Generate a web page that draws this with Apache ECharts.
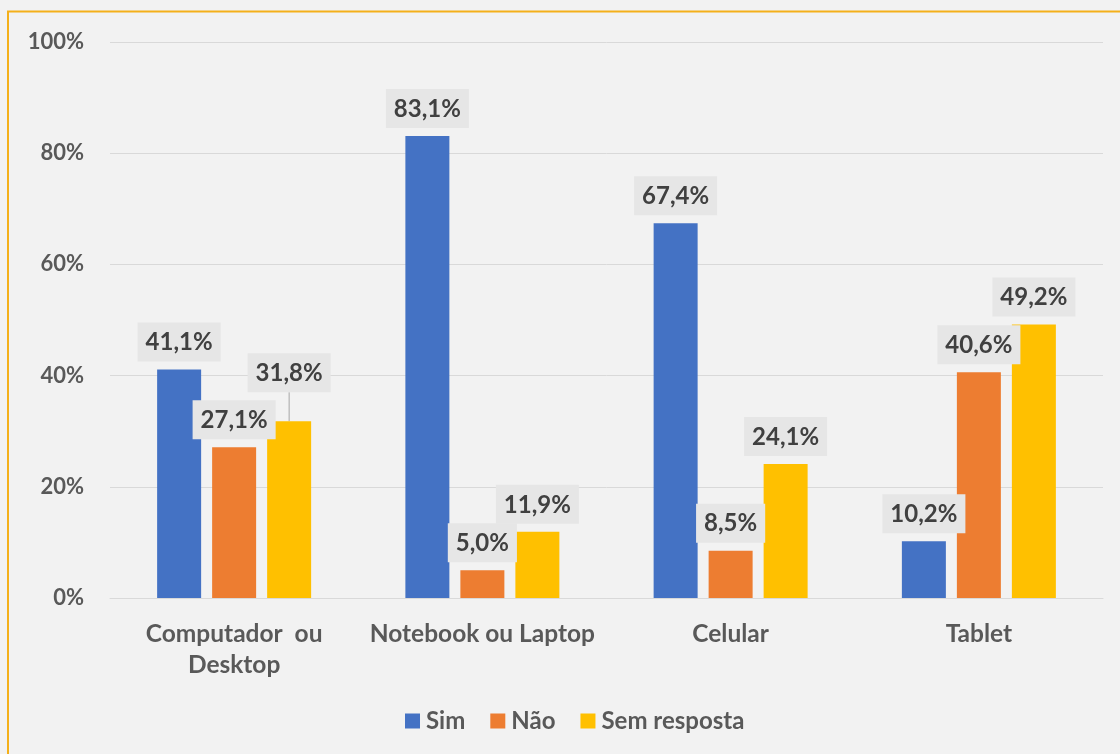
<!DOCTYPE html>
<html>
<head>
<meta charset="utf-8">
<script src="https://cdn.jsdelivr.net/npm/echarts@6/dist/echarts.min.js"></script>
<style>
html,body{margin:0;padding:0;background:#f2f2f2;}
#chart{width:1120px;height:754px;}
</style>
</head>
<body>
<div id="chart"></div>
<script>
const categories = ['Computador  ou\nDesktop', 'Notebook ou Laptop', 'Celular', 'Tablet'];
const simValues = [41.1, 83.1, 67.4, 10.2];
const naoValues = [27.1, 5.0, 8.5, 40.6];
const semRespostaValues = [31.8, 11.9, 24.1, 49.2];
const seriesNames = ['Sim', 'Não', 'Sem resposta'];
const yTicks = [0, 20, 40, 60, 80, 100];

const colors = ['#4472c4', '#ed7d31', '#ffc000'];
const FONT = 'Lato';

const chart = echarts.init(document.getElementById('chart'), null, {renderer: 'canvas'});

function fmt(v) {
  return v.toFixed(1).replace('.', ',') + '%';
}

const labelCfg = {
  show: true,
  position: 'top',
  distance: 8,
  formatter: p => fmt(p.value),
  fontFamily: FONT,
  fontWeight: 'bold',
  fontSize: 24,
  color: '#404040',
  backgroundColor: '#e6e6e6',
  padding: [8, 8, 7, 8]
};

const allData = [simValues, naoValues, semRespostaValues];

function buildData(vals, si) {
  return vals.map((v, di) => {
    if (si === 2 && di === 0) {
      return {value: v, labelLine: {show: true, lineStyle: {color: '#a6a6a6', width: 1}}};
    }
    return v;
  });
}

const option = {
  backgroundColor: '#f2f2f2',
  animation: false,
  color: colors,
  textStyle: {fontFamily: FONT},
  grid: {left: 110, right: 17, top: 42, bottom: 156, containLabel: false},
  legend: {
    data: seriesNames,
    bottom: 16,
    left: 400,
    itemWidth: 15,
    itemHeight: 15,
    itemGap: 25,
    icon: 'rect',
    textStyle: {fontFamily: FONT, fontWeight: 'bold', fontSize: 24, color: '#595959', padding: [0, 0, 0, 1]}
  },
  xAxis: {
    type: 'category',
    data: categories,
    axisLine: {show: true, lineStyle: {color: '#d9d9d9', width: 1}},
    axisTick: {show: false},
    axisLabel: {
      fontFamily: FONT, fontWeight: 'bold', fontSize: 24.5, color: '#595959',
      margin: 21, lineHeight: 31, interval: 0
    }
  },
  yAxis: {
    type: 'value',
    min: 0, max: 100, interval: 20,
    axisLine: {show: false},
    axisTick: {show: false},
    splitLine: {lineStyle: {color: '#d9d9d9', width: 1}},
    axisLabel: {
      fontFamily: FONT, fontWeight: 'bold', fontSize: 22, color: '#595959',
      margin: 26,
      formatter: v => yTicks.includes(v) ? v + '%' : ''
    }
  },
  series: allData.map((vals, i) => ({
    name: seriesNames[i],
    type: 'bar',
    data: buildData(vals, i),
    barWidth: 44,
    barGap: '25%',
    itemStyle: {color: colors[i]},
    label: labelCfg,
    labelLine: {show: false},
    labelLayout: function (p) {
      if (p.seriesIndex === 2 && p.dataIndex === 0) {
        return {dy: -21};
      }
      return {};
    }
  })),
  graphic: [
    {
      type: 'polyline',
      shape: {points: [[8, 754], [8, 11.5], [1120, 11.5]]},
      style: {stroke: '#f4b01a', lineWidth: 2, fill: null},
      silent: true
    }
  ]
};

chart.setOption(option);
</script>
</body>
</html>
